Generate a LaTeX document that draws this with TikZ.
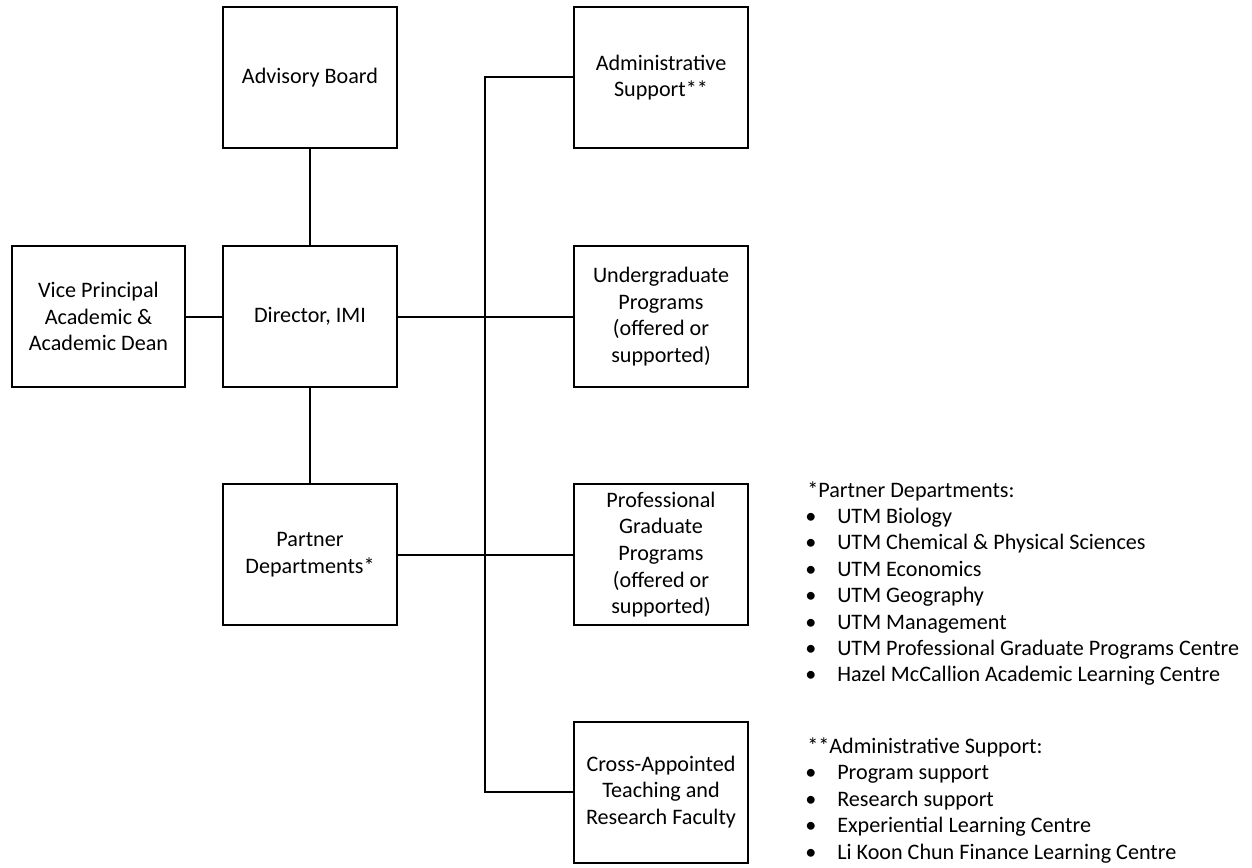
\documentclass[tikz,border=0pt]{standalone}
\usepackage{fontspec}
\setmainfont{Carlito}
\begin{document}
\begin{tikzpicture}[x=0.75pt,y=-0.75pt,
  every node/.style={font=\fontsize{16.6}{20}\selectfont},
  box/.style={draw=black, line width=1.5pt, fill=white, align=center, inner sep=0pt,
    minimum width=130.5pt, minimum height=105.75pt},
  link/.style={draw=black, line width=1.5pt},
  note/.style={anchor=base west, inner sep=0pt},
  item/.style={anchor=base west, inner sep=0pt}
]
\useasboundingbox (0,0) rectangle (1252,867);
\fill[white] (0,0) rectangle (1252,867);

% boxes
\node[box] (adv)   at (310,77.5)  {Advisory Board};
\node[box] (dir)   at (310,316.5) {Director, IMI};
\node[box, minimum width=129.75pt] (vp) at (98.5,316.5) {Vice Principal\\Academic \&\\Academic Dean};
\node[box] (part)  at (310,554.5) {Partner\\Departments*};
\node[box] (admin) at (661,77.5)  {Administrative\\Support**};
\node[box] (ug)    at (661,316.5) {Undergraduate\\Programs\\(offered or\\supported)};
\node[box] (pg)    at (661,554.5) {Professional\\Graduate\\Programs\\(offered or\\supported)};
\node[box] (cross) at (661,792)   {Cross-Appointed\\Teaching and\\Research Faculty};

% connectors
\coordinate (bt) at (485,77.5);
\coordinate (bb) at (485,792);
\draw[link] (adv.south) -- (dir.north);
\draw[link] (vp.east) -- (dir.west);
\draw[link] (dir.south) -- (part.north);
\draw[link] (dir.east) -- (ug.west);
\draw[link] (part.east) -- (pg.west);
\draw[link] (admin.west) -- (bt) -- (bb) -- (cross.west);

% notes
\node[note] (pdh) at (807,497) {*Partner Departments:};
\foreach \t [count=\i] in {UTM Biology, UTM Chemical \& Physical Sciences, UTM Economics, UTM Geography, UTM Management, UTM Professional Graduate Programs Centre, Hazel McCallion Academic Learning Centre}{
  \node[item] (pdb\i) at (805,{497+26.4*\i}) {\textbullet};
  \node[item] (pdt\i) at (837,{497+26.4*\i}) {\t};
}
\node[note] (ash) at (807,753) {**Administrative Support:};
\foreach \t [count=\i] in {Program support, Research support, Experiential Learning Centre, Li Koon Chun Finance Learning Centre}{
  \node[item] (asb\i) at (805,{753+26.6*\i}) {\textbullet};
  \node[item] (ast\i) at (837,{753+26.6*\i}) {\t};
}
\end{tikzpicture}
\end{document}
